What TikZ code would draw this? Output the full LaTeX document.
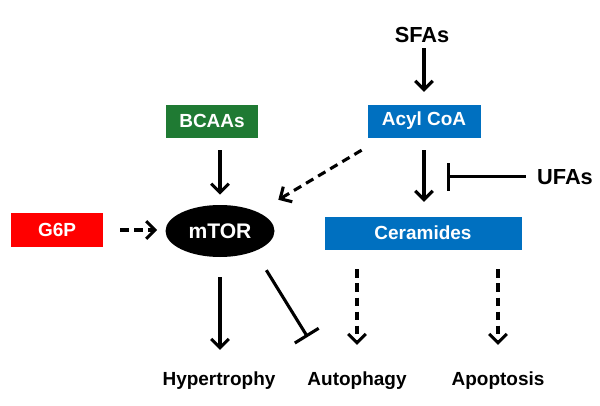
\documentclass[tikz,border=0pt]{standalone}
\usepackage{fontspec}
\setmainfont{Liberation Sans}
\usetikzlibrary{shapes,arrows.meta,calc,positioning}
\definecolor{bcaagreen}{RGB}{31,122,51}
\definecolor{acylblue}{RGB}{0,112,192}
\definecolor{g6pred}{RGB}{255,0,0}

\begin{document}
\begin{tikzpicture}[x=0.25mm,y=-0.25mm,
box/.style={
rectangle,
text=white,
minimum height=8.25mm,
inner sep=0pt,
font=\fontsize{13.5}{16}\selectfont\bfseries},
txt/.style={inner sep=0pt,font=\fontsize{13.5}{16}\selectfont\bfseries},
bigtxt/.style={txt,font=\fontsize{15.5}{18}\selectfont\bfseries},
act/.style={line width=2.2pt,-{Straight Barb[length=2.2mm,width=4.4mm]}},
maybe/.style={act,dash pattern=on 6pt off 4pt},
inhib/.style={line width=2.2pt,-{Bar[width=7mm]}}]
\useasboundingbox (0,0) rectangle (600,406);

% inputs on top, outcomes on the bottom row
\node[bigtxt,anchor=base] (sfa) at (422,42) {SFAs};
\node[box,fill=acylblue,minimum width=28.25mm] (acyl) at (424,121) {Acyl CoA};
\node[box,fill=bcaagreen,minimum width=23mm] (bcaa) at (212,121) {BCAAs};
\node[ellipse,fill=black,text=white,minimum width=27.25mm,minimum height=13mm,inner sep=0pt,font=\fontsize{15}{18}\selectfont\bfseries] (mtor) at (220,231) {mTOR};
\node[box,fill=g6pred,minimum width=23mm,minimum height=8.5mm] (g6p) at (57,230) {G6P};
\node[box,fill=acylblue,minimum width=49.25mm] (cer) at (423,233) {Ceramides};
\node[bigtxt,anchor=base] (ufa) at (565,184) {UFAs};
\node[txt,anchor=base] (hyp) at (219,385) {Hypertrophy};
\node[txt,anchor=base] (auto) at (357,385) {Autophagy};
\node[txt,anchor=base] (apop) at (498,385) {Apoptosis};

\draw[act,shorten <=1.5mm,shorten >=3.1mm] (acyl.north |- sfa.south) -- (acyl.north);
\draw[act,shorten <=3.1mm,shorten >=2.5mm] (mtor.north |- bcaa.south) -- (mtor.north);
\draw[maybe,shorten <=4.25mm,shorten >=2mm] (g6p.east) -- (g6p.east -| mtor.west);
\draw[maybe] ([xshift=-1.4mm,yshift=-3.1mm]acyl.south west) -- ([xshift=4.9mm,yshift=3.15mm]mtor.north east);
\draw[act,shorten <=3.1mm,shorten >=3.6mm] (acyl.south) -- (acyl.south |- cer.north);
\coordinate (ufa-stop) at (447,176);
\draw[inhib,shorten <=2.75mm] (ufa.west) -- (ufa.west -| ufa-stop);

\draw[act,shorten <=5mm,shorten >=5.25mm] (mtor.south) -- (mtor.south |- hyp.north);
\draw[inhib] ([xshift=1.9mm,yshift=-5.15mm]mtor.south east) -- ([xshift=0.1mm,yshift=8.5mm]auto.north west);
\draw[maybe,shorten <=4.9mm,shorten >=6.5mm] (auto |- cer.south) -- (auto.north);
\draw[maybe,shorten <=4.9mm,shorten >=6.5mm] (apop |- cer.south) -- (apop.north);
\end{tikzpicture}
\end{document}
